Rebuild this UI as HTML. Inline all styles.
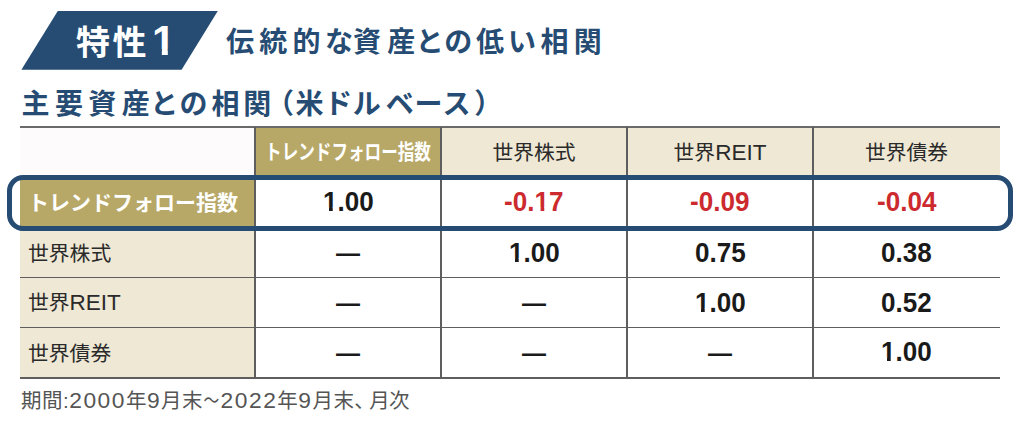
<!DOCTYPE html>
<html lang="ja">
<head>
<meta charset="utf-8">
<style>
html,body{margin:0;padding:0;background:#fff;}
body{width:1024px;height:422px;position:relative;overflow:hidden;
  font-family:"Liberation Sans","Noto Sans CJK JP",sans-serif;}
.abs{position:absolute;}
.navy{color:#264c73;}
#badge{left:0;top:0;}
#badgeText{left:76px;top:14px;font-size:34px;letter-spacing:2.5px;font-weight:700;color:#fff;line-height:54px;white-space:nowrap;
  font-family:"Noto Sans CJK JP",sans-serif;}
#title{left:226px;top:20px;font-size:28px;font-weight:700;line-height:40px;letter-spacing:3.6px;white-space:nowrap;
  font-family:"Noto Sans CJK JP",sans-serif;}
#sub{left:21px;top:82px;font-size:28px;font-weight:700;line-height:40px;letter-spacing:4px;font-feature-settings:"palt";white-space:nowrap;
  font-family:"Noto Sans CJK JP",sans-serif;}
.hl{background:#5e5e5e;}
.cell{position:absolute;display:flex;align-items:center;justify-content:center;white-space:nowrap;}
.lat{font-size:22.5px;}
.cj{position:relative;top:-1.5px;}
#note .d{letter-spacing:1.5px;font-size:22.8px;}
#note .tl{display:inline-block;transform:scaleX(0.77);margin:0 -1.5px 0 -2px;}
.beige{background:#efe8d5;}
.gold{background:#b7a868;}
.hdr{font-size:20.8px;color:#2a2a2a;font-weight:400;padding-bottom:2px;box-sizing:border-box;}
.rowh{justify-content:flex-start;padding-left:8px;padding-bottom:2px;box-sizing:border-box;font-size:20.8px;color:#2a2a2a;}
.val{font-size:27px;padding-bottom:4px;box-sizing:border-box;font-weight:700;color:#1a1a1a;font-family:"Liberation Sans",sans-serif;}
.red{color:#cc2a2e;}
.v{display:inline-block;transform:scaleX(0.965);}
.r1{padding-bottom:3px;}
.r2{padding-bottom:3px;}
.r3{padding-bottom:0px;}
.r4{padding-bottom:1px;}
.one{display:inline-block;line-height:1em;clip-path:polygon(0 0,100% 0,100% 0.69em,0.3765em 0.69em,0.3765em 100%,0.234em 100%,0.234em 0.69em,0 0.69em);}
.dash{font-size:24px;position:relative;top:-0.1px;}
.r3 .dash{top:-0.1px;}
.r4 .dash{top:0.4px;}
#note{left:21px;top:387.3px;font-size:20.5px;letter-spacing:0.5px;font-feature-settings:"palt";color:#555;line-height:26px;white-space:nowrap;}
#box{left:6.8px;top:175.3px;width:1006.2px;height:55.3px;box-sizing:border-box;border:5px solid #264c73;border-radius:16px;}
</style>
</head>
<body>
<svg class="abs" id="badge" width="240" height="80" viewBox="0 0 240 80">
  <polygon points="57.8,10.9 217.8,10.9 181.6,69.8 21.4,69.8" fill="#264c73"/>
</svg>
<div class="abs" id="badgeText">特性<span class="one" style="font-family:'Liberation Sans',sans-serif;font-size:42px;margin-left:3px">1</span></div>
<div class="abs navy" id="title">伝<span style="position:relative;left:1.6px">統</span><span style="position:relative;left:3.2px">的</span><span style="position:relative;left:4.2px">な</span><span style="position:relative;left:0.6px">資</span><span style="position:relative;left:3.3px">産</span>と<span style="position:relative;left:-2.8px">の</span><span style="position:relative;left:-2.6px">低</span><span style="position:relative;left:-2.1px">い</span><span style="position:relative;left:-1.4px">相</span><span style="position:relative;left:0.3px">関</span></div>
<div class="abs navy" id="sub"><span style="position:relative;left:0.6px">主</span><span style="position:relative;left:2px">要</span><span style="position:relative;left:3.2px">資</span><span style="position:relative;left:4.7px">産</span><span style="position:relative;left:2.9px">と</span><span style="position:relative;left:3.3px">の</span><span style="position:relative;left:3.7px">相</span><span style="position:relative;left:3.4px">関</span><span style="position:relative;left:7px">（</span><span style="position:relative;left:5.6px">米</span><span style="position:relative;left:4.6px">ド</span><span style="position:relative;left:2.7px">ル</span><span style="position:relative;left:4.3px">ベ</span><span style="position:relative;left:1.6px">ー</span><span style="position:relative;left:0.7px">ス</span><span style="position:relative;left:2px">）</span></div>

<!-- table backgrounds -->
<div class="cell" style="left:20px;top:127px;width:235px;height:50px;background:#fdfbfb"></div>
<div class="cell gold" style="left:255px;top:127px;width:186px;height:50px;color:#fff;font-size:21px;font-weight:700;padding-bottom:4px;box-sizing:border-box"><span style="display:inline-block;transform:scaleX(0.79)">トレンドフォロー指数</span></div>
<div class="cell beige hdr" style="left:441px;top:127px;width:186px;height:50px">世界株式</div>
<div class="cell beige hdr" style="left:627px;top:127px;width:186px;height:50px;padding-bottom:0;padding-top:1px"><span class="cj">世界</span><span class="lat">REIT</span></div>
<div class="cell beige hdr" style="left:813px;top:127px;width:187px;height:50px">世界債券</div>

<div class="cell gold rowh" style="left:20px;top:176px;width:235px;height:55px;color:#fff;font-size:21px;padding-left:8px;padding-bottom:5px;font-weight:700">トレンドフォロー指数</div>
<div class="cell val r1" style="left:255px;top:176px;width:186px;height:55px"><span class="v"><span class="one">1</span>.00</span></div>
<div class="cell val red r1" style="left:441px;top:176px;width:186px;height:55px"><span class="v">-0.<span class="one">1</span>7</span></div>
<div class="cell val red r1" style="left:627px;top:176px;width:186px;height:55px"><span class="v">-0.09</span></div>
<div class="cell val red r1" style="left:813px;top:176px;width:187px;height:55px"><span class="v">-0.04</span></div>

<div class="cell beige rowh" style="left:20px;top:231px;width:235px;height:47px;padding-bottom:6px">世界株式</div>
<div class="cell val r2" style="left:255px;top:231px;width:186px;height:47px"><span class="dash">—</span></div>
<div class="cell val r2" style="left:441px;top:231px;width:186px;height:47px"><span class="v"><span class="one">1</span>.00</span></div>
<div class="cell val r2" style="left:627px;top:231px;width:186px;height:47px"><span class="v">0.75</span></div>
<div class="cell val r2" style="left:813px;top:231px;width:187px;height:47px"><span class="v">0.38</span></div>

<div class="cell beige rowh" style="left:20px;top:278px;width:235px;height:50px;padding-bottom:0.5px"><span class="cj">世界</span><span class="lat">REIT</span></div>
<div class="cell val r3" style="left:255px;top:278px;width:186px;height:50px"><span class="dash">—</span></div>
<div class="cell val r3" style="left:441px;top:278px;width:186px;height:50px"><span class="dash">—</span></div>
<div class="cell val r3" style="left:627px;top:278px;width:186px;height:50px"><span class="v"><span class="one">1</span>.00</span></div>
<div class="cell val r3" style="left:813px;top:278px;width:187px;height:50px"><span class="v">0.52</span></div>

<div class="cell beige rowh" style="left:20px;top:328px;width:235px;height:50px">世界債券</div>
<div class="cell val r4" style="left:255px;top:328px;width:186px;height:50px"><span class="dash">—</span></div>
<div class="cell val r4" style="left:441px;top:328px;width:186px;height:50px"><span class="dash">—</span></div>
<div class="cell val r4" style="left:627px;top:328px;width:186px;height:50px"><span class="dash">—</span></div>
<div class="cell val r4" style="left:813px;top:328px;width:187px;height:50px"><span class="v"><span class="one">1</span>.00</span></div>

<!-- lines -->
<div class="abs hl" style="left:20px;top:125.8px;width:980px;height:2px;background:#6a6a6a"></div>
<div class="abs hl" style="left:20px;top:276.7px;width:980px;height:1.6px"></div>
<div class="abs hl" style="left:20px;top:326.5px;width:980px;height:1.6px"></div>
<div class="abs hl" style="left:20px;top:377.1px;width:980px;height:1.8px"></div>
<div class="abs hl" style="left:254.2px;top:127px;width:1.6px;height:251px"></div>
<div class="abs hl" style="left:440.2px;top:127px;width:1.6px;height:251px"></div>
<div class="abs hl" style="left:626.2px;top:127px;width:1.6px;height:251px"></div>
<div class="abs hl" style="left:812.2px;top:127px;width:1.6px;height:251px"></div>

<div class="abs" id="box"></div>

<div class="abs" id="note">期間:<span class="d">2000</span>年<span class="d">9</span>月末<span class="tl">〜</span><span class="d">2022</span>年<span class="d">9</span>月末<span style="margin-right:4px">、</span><span style="letter-spacing:-0.8px">月</span>次</div>
</body>
</html>
